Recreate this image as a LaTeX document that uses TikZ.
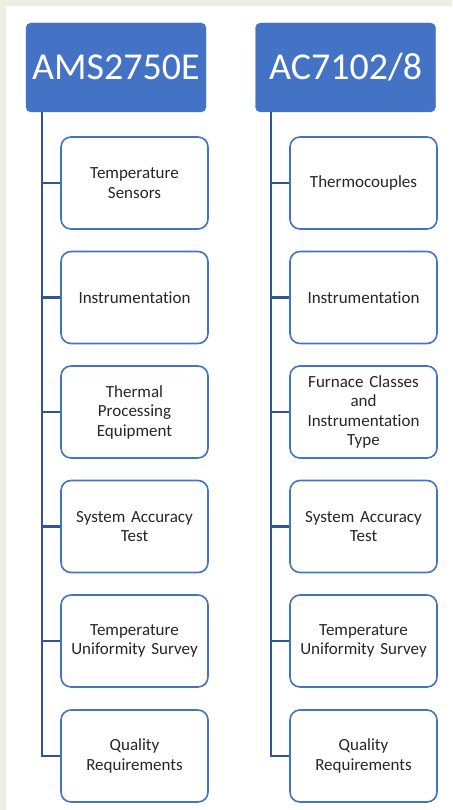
\documentclass[tikz,border=0pt]{standalone}
\usepackage{fontspec}
\setmainfont{Carlito}[Ligatures=NoCommon]
\definecolor{bgout}{HTML}{EBF0E3}
\definecolor{hdr}{HTML}{4472C4}
\definecolor{bord}{HTML}{4472C4}
\definecolor{conn}{HTML}{2F5597}
\tikzset{
  header/.style={draw=hdr, fill=hdr, rounded corners=5pt, minimum width=180pt, minimum height=89pt, text=white, font=\fontsize{38}{40}\selectfont, inner sep=0pt},
  child/.style={draw=bord, line width=1.6pt, fill=white, rounded corners=10pt, minimum width=147pt, minimum height=92pt, align=center, text width=142pt, font=\fontsize{17}{19.5}\selectfont, inner sep=0pt, text=black!85},
  link/.style={draw=conn, line width=2.2pt}
}
\begin{document}
\begin{tikzpicture}[x=1pt,y=-1pt]
\fill[bgout] (0,0) rectangle (452,810);
\fill[white] (6,6) rectangle (452,810);
\useasboundingbox (0,0) rectangle (452,810);
% left column
\node[header] (h1) at (116,67.5) {AMS2750E};
\node[child] (a1) at (134.5,183) {Temperature\\Sensors};
\node[child] (a2) at (134.5,297.5) {Instrumentation};
\node[child] (a3) at (134.5,412) {Thermal\\Processing\\Equipment};
\node[child] (a4) at (134.5,526.5) {System Accuracy\\Test};
\node[child] (a5) at (134.5,641) {Temperature\\Uniformity Survey};
\node[child] (a6) at (134.5,756) {Quality\\Requirements};
\coordinate (lt) at (42,112);
% right column
\node[header] (h2) at (345.5,67.5) {AC7102/8};
\node[child] (b1) at (363.5,183) {Thermocouples};
\node[child] (b2) at (363.5,297.5) {Instrumentation};
\node[child] (b3) at (363.5,412) {Furnace Classes\\and\\Instrumentation\\Type};
\node[child] (b4) at (363.5,526.5) {System Accuracy\\Test};
\node[child] (b5) at (363.5,641) {Temperature\\Uniformity Survey};
\node[child] (b6) at (363.5,756) {Quality\\Requirements};
\coordinate (rt) at (271,112);
% connectors
\draw[link] (lt) |- (a6.west);
\foreach \i in {1,...,5} \draw[link] (lt |- a\i.west) -- (a\i.west);
\draw[link] (rt) |- (b6.west);
\foreach \i in {1,...,5} \draw[link] (rt |- b\i.west) -- (b\i.west);
\end{tikzpicture}
\end{document}
